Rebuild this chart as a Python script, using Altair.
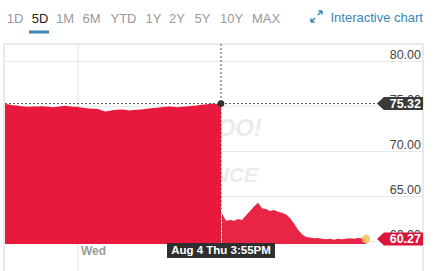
import altair as alt
import pandas as pd

# ---------------- data ----------------
RANGE_BUTTONS = ["1D", "5D", "1M", "6M", "YTD", "1Y", "2Y", "5Y", "10Y", "MAX"]
ACTIVE_BUTTON = "5D"
LINK_TEXT = "Interactive chart"

# price before the crosshair (regular intervals)
SEG1_VALUES = [75.28, 75.21, 75.14, 75.10, 75.03, 75.00, 74.96, 75.00, 75.00, 75.03,
               75.00, 74.96, 74.92, 74.96, 75.03, 75.07, 75.03, 74.96, 74.96, 74.89,
               74.82, 74.78, 74.74, 74.74, 74.60, 74.45, 74.49, 74.60, 74.64, 74.67,
               74.64, 74.56, 74.60, 74.64, 74.67, 74.71, 74.78, 74.82, 74.85, 74.92,
               74.96, 75.00, 74.96, 74.92, 74.96, 75.00, 75.03, 75.07, 75.10, 75.18,
               75.21, 75.28, 75.32, 75.28, 75.32]
# price after the crosshair
SEG2_VALUES = [63.1, 62.3, 62.4, 62.3, 62.5, 62.4, 62.9, 63.4, 63.9, 64.3,
               63.7, 63.6, 63.4, 63.5, 63.3, 63.2, 63.0, 62.6, 62.0, 61.3,
               60.8, 60.5, 60.45, 60.35, 60.4, 60.3, 60.25, 60.3, 60.2, 60.3,
               60.25, 60.3, 60.35, 60.3, 60.4, 60.35, 60.27]
Y_TICKS = [60, 65, 70, 75, 80]
X_TICK_LABELS = ["Wed"]
X_TICK_POS = [18.25]
CROSS_T = 54
CROSS_VALUE = 75.32
CROSS_LABEL = "Aug 4 Thu 3:55PM"
LAST_VALUE = 60.27
WATERMARK = ["YAHOO!", "FINANCE"]

# ---------------- layout ----------------
W, H = 419, 200
X_DOM = [-0.25, 104.5]
Y_DOM = [59.72, 81.94]
FONT = "Liberation Sans"
RED = "#E8193C"
BUTTON_X = [11, 36, 61, 87.5, 119.5, 149.5, 173, 198.5, 227.5, 262]

xs = alt.Scale(domain=X_DOM)
ys = alt.Scale(domain=Y_DOM, zero=False, nice=False)

seg1 = pd.DataFrame({"t": list(range(len(SEG1_VALUES))), "v": SEG1_VALUES})
seg2 = pd.DataFrame({"t": [54.25 + j for j in range(len(SEG2_VALUES))], "v": SEG2_VALUES})
one = alt.Data(values=[{"a": 1}])

layers = []

# watermark (mostly hidden behind area)
wm = pd.DataFrame({"txt": WATERMARK, "px": [258, 254], "py": [92, 138], "fs": [24, 21]})
for i in range(2):
    layers.append(alt.Chart(one).mark_text(
        font=FONT, fontSize=int(wm.fs[i]), fontWeight="bold", fontStyle="italic",
        color="#ebebeb", align="right", baseline="alphabetic"
    ).encode(x=alt.value(float(wm.px[i])), y=alt.value(float(wm.py[i])),
             text=alt.value(wm.txt[i])))

# horizontal gridlines
grid = pd.DataFrame({"v": Y_TICKS})
layers.append(alt.Chart(grid).mark_rule(color="#e8e8e8", strokeWidth=1).encode(
    y=alt.Y("v:Q", scale=ys, axis=None)))

# vertical grid for day tick
xt = pd.DataFrame({"t": X_TICK_POS, "lab": X_TICK_LABELS})
layers.append(alt.Chart(xt).mark_rule(color="#e2e2e2", strokeWidth=1).encode(
    x=alt.X("t:Q", scale=xs, axis=None), y=alt.value(0), y2=alt.value(227)))

# frame borders
layers.append(alt.Chart(one).mark_rule(color="#d4d4d4").encode(
    x=alt.value(0), x2=alt.value(W), y=alt.value(0)))
layers.append(alt.Chart(one).mark_rule(color="#d4d4d4").encode(
    x=alt.value(0), y=alt.value(0), y2=alt.value(227)))
layers.append(alt.Chart(one).mark_rule(color="#d4d4d4").encode(
    x=alt.value(W), y=alt.value(0), y2=alt.value(227)))

# areas
for df, op in ((seg1, 1.0), (seg2, 0.95)):
    layers.append(alt.Chart(df).mark_area(color=RED, opacity=op, interpolate="linear", clip=True).encode(
        x=alt.X("t:Q", scale=xs, axis=None),
        y=alt.Y("v:Q", scale=ys, axis=None),
        y2=alt.datum(Y_DOM[0])))

# crosshair lines
cross = pd.DataFrame({"t": [CROSS_T], "v": [CROSS_VALUE]})
layers.append(alt.Chart(cross).mark_rule(color="#555555", strokeDash=[2, 2], strokeWidth=1).encode(
    y=alt.Y("v:Q", scale=ys, axis=None), x=alt.value(1), x2=alt.value(374)))
layers.append(alt.Chart(cross).mark_rule(color="#555555", strokeDash=[2, 2], strokeWidth=1).encode(
    x=alt.X("t:Q", scale=xs, axis=None), y=alt.value(0), y2=alt.value(H - 1)))
layers.append(alt.Chart(cross).mark_point(filled=True, color="#333333", size=45, opacity=1).encode(
    x=alt.X("t:Q", scale=xs, axis=None), y=alt.Y("v:Q", scale=ys, axis=None)))

# last point marker
last = seg2.tail(1)
layers.append(alt.Chart(last).mark_point(filled=True, color="#F7C25A", size=70, opacity=0.85).encode(
    x=alt.X("t:Q", scale=xs, axis=None), y=alt.Y("v:Q", scale=ys, axis=None)))

# y labels
ylab = pd.DataFrame({"v": Y_TICKS, "lab": [f"{v:.2f}" for v in Y_TICKS]})
layers.append(alt.Chart(ylab).mark_text(
    font=FONT, fontSize=12.5, color="#444444", align="right", baseline="alphabetic", dy=-2.5
).encode(y=alt.Y("v:Q", scale=ys, axis=None), x=alt.value(417), text="lab:N"))

# price tags
TAG = "M -1 0 L -0.7 -0.283 L 1 -0.283 L 1 0.283 L -0.7 0.283 Z"
tags = pd.DataFrame({"v": [CROSS_VALUE, LAST_VALUE], "lab": [f"{CROSS_VALUE:.2f}", f"{LAST_VALUE:.2f}"],
                     "kind": ["cross", "last"]})
layers.append(alt.Chart(tags).mark_point(shape=TAG, filled=True, size=2116, opacity=1, strokeWidth=0).encode(
    y=alt.Y("v:Q", scale=ys, axis=None), x=alt.value(396),
    color=alt.Color("kind:N", scale=alt.Scale(domain=["cross", "last"], range=["#3a3a3a", "#D8173A"]), legend=None)))
layers.append(alt.Chart(tags).mark_text(
    font=FONT, fontSize=12.5, fontWeight="bold", color="white", align="right", baseline="middle"
).encode(y=alt.Y("v:Q", scale=ys, axis=None), x=alt.value(417), text="lab:N"))

# x label
layers.append(alt.Chart(xt).mark_text(
    font=FONT, fontSize=12, fontWeight="bold", color="#9c9c9c", align="left", baseline="middle", dx=3
).encode(x=alt.X("t:Q", scale=xs, axis=None), y=alt.value(207), text="lab:N"))

# crosshair x label box
BOX = "M -1 -0.139 L 1 -0.139 L 1 0.139 L -1 0.139 Z"
clab = pd.DataFrame({"t": [CROSS_T], "lab": [CROSS_LABEL]})
layers.append(alt.Chart(clab).mark_point(shape=BOX, filled=True, size=11664, color="#2f2f2f",
                                         opacity=1, strokeWidth=0).encode(
    x=alt.X("t:Q", scale=xs, axis=None), y=alt.value(206.5)))
layers.append(alt.Chart(clab).mark_text(
    font=FONT, fontSize=11.5, fontWeight="bold", color="white", align="center", baseline="middle"
).encode(x=alt.X("t:Q", scale=xs, axis=None), y=alt.value(207), text="lab:N"))

# header buttons
btn = pd.DataFrame({"lab": RANGE_BUTTONS, "px": BUTTON_X})
btn["col"] = ["#222222" if b == ACTIVE_BUTTON else "#9a9a9a" for b in RANGE_BUTTONS]
for _, r in btn.iterrows():
    layers.append(alt.Chart(one).mark_text(
        font=FONT, fontSize=13, color=r.col, align="center", baseline="middle"
    ).encode(x=alt.value(float(r.px)), y=alt.value(-25), text=alt.value(r.lab)))
layers.append(alt.Chart(one).mark_rule(color="#3a87b4", strokeWidth=3).encode(
    x=alt.value(25), x2=alt.value(45), y=alt.value(-12)))

# link text and icon
LINK = "#3a87b4"
layers.append(alt.Chart(one).mark_text(
    font=FONT, fontSize=13, color=LINK, align="right", baseline="middle"
).encode(x=alt.value(419), y=alt.value(-26.5), text=alt.value(LINK_TEXT)))
icon = [(307, -22, 311, -26), (307, -22, 307, -25.5), (307, -22, 310.5, -22),
        (314, -29, 318, -33), (318, -33, 314.5, -33), (318, -33, 318, -29.5)]
for (a, b, c, d) in icon:
    layers.append(alt.Chart(one).mark_rule(color=LINK, strokeWidth=1.6).encode(
        x=alt.value(a), y=alt.value(b), x2=alt.value(c), y2=alt.value(d)))

chart = alt.layer(*layers).properties(
    width=W, height=H,
    autosize=alt.AutoSizeParams(type="none"),
    padding={"left": 4, "top": 44, "right": 12, "bottom": 27},
    background="white",
).configure_view(strokeWidth=0)

chart.save("out.html", embed_options={"renderer": "svg", "actions": False})
